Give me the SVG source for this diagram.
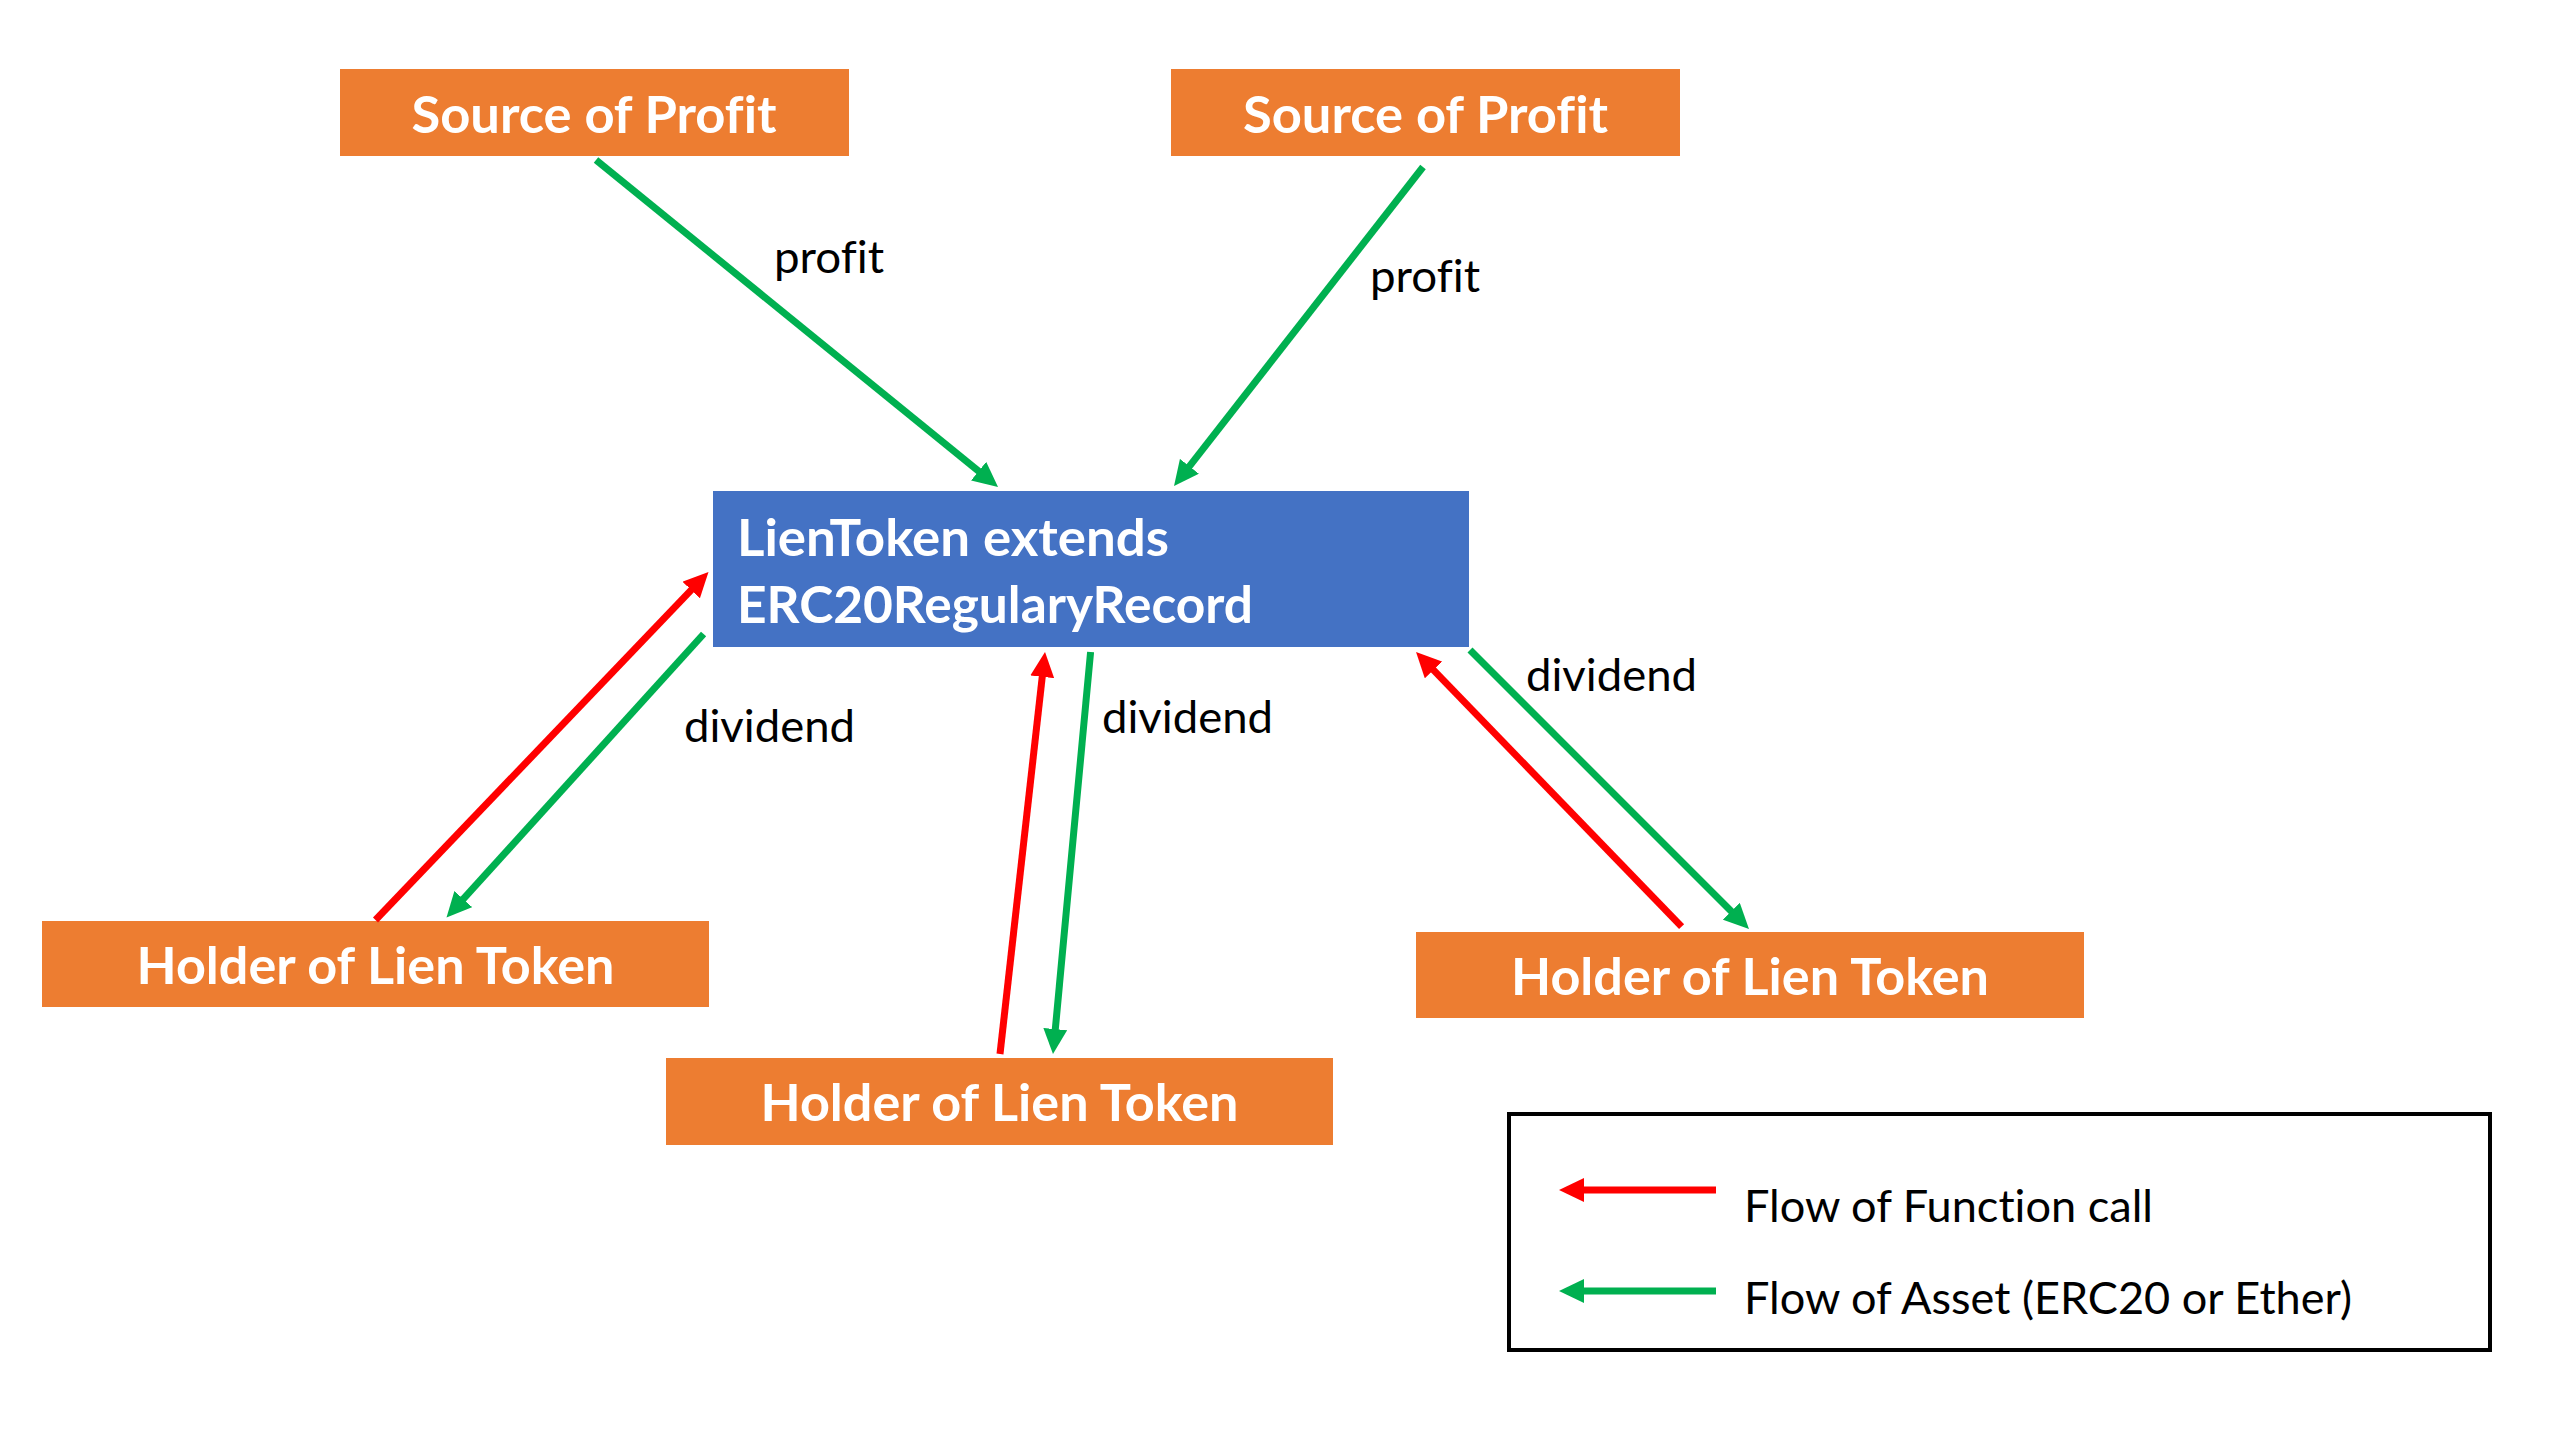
<svg xmlns="http://www.w3.org/2000/svg" width="2560" height="1440" viewBox="0 0 2560 1440">
<style>
.node-o{fill:#ED7D31;}
.node-b{fill:#4472C4;}
.nt{font-family:Lato,"Liberation Sans",Arial,sans-serif;font-weight:bold;font-size:51px;fill:#FFFFFF;font-variant-ligatures:none;}
.lbl{font-family:Lato,"Liberation Sans",Arial,sans-serif;font-size:44px;fill:#000000;font-variant-ligatures:none;}
.g{stroke:#00B050;stroke-width:7;fill:none;marker-end:url(#ag);}
.r{stroke:#FF0000;stroke-width:7;fill:none;marker-end:url(#ar);}
</style>
<defs>
<marker id="ag" markerUnits="userSpaceOnUse" markerWidth="25" markerHeight="24" refX="14" refY="12" orient="auto" viewBox="0 0 25 24">
<path d="M0,0 L25,12 L0,24 z" fill="#00B050"/>
</marker>
<marker id="ar" markerUnits="userSpaceOnUse" markerWidth="25" markerHeight="24" refX="14" refY="12" orient="auto" viewBox="0 0 25 24">
<path d="M0,0 L25,12 L0,24 z" fill="#FF0000"/>
</marker>
</defs>
<rect width="2560" height="1440" fill="#FFFFFF"/>

<g id="source1">
<rect class="node-o" x="340" y="69" width="509" height="87"/>
<text class="nt" x="594" y="133" text-anchor="middle" textLength="365" lengthAdjust="spacingAndGlyphs">Source of Profit</text>
</g>
<g id="source2">
<rect class="node-o" x="1171" y="69" width="509" height="87"/>
<text class="nt" x="1425.5" y="133" text-anchor="middle" textLength="365" lengthAdjust="spacingAndGlyphs">Source of Profit</text>
</g>
<g id="lientoken">
<rect class="node-b" x="713" y="491" width="756" height="156"/>
<text class="nt" x="737" y="556" textLength="432" lengthAdjust="spacingAndGlyphs">LienToken extends</text>
<text class="nt" x="737" y="623" textLength="516" lengthAdjust="spacingAndGlyphs">ERC20RegularyRecord</text>
</g>
<g id="holder1">
<rect class="node-o" x="42" y="921" width="667" height="86"/>
<text class="nt" x="375.5" y="984" text-anchor="middle" textLength="478" lengthAdjust="spacingAndGlyphs">Holder of Lien Token</text>
</g>
<g id="holder2">
<rect class="node-o" x="666" y="1058" width="667" height="87"/>
<text class="nt" x="999.5" y="1121" text-anchor="middle" textLength="478" lengthAdjust="spacingAndGlyphs">Holder of Lien Token</text>
</g>
<g id="holder3">
<rect class="node-o" x="1416" y="932" width="668" height="86"/>
<text class="nt" x="1750" y="995" text-anchor="middle" textLength="478" lengthAdjust="spacingAndGlyphs">Holder of Lien Token</text>
</g>

<g id="connectors">
<line class="g" x1="596" y1="160" x2="989.5" y2="480"/>
<line class="g" x1="1423" y1="167" x2="1180.8" y2="477.3"/>
<line class="r" x1="375.5" y1="920" x2="700.9" y2="579.9"/>
<line class="g" x1="703.6" y1="634" x2="453.9" y2="909.4"/>
<line class="r" x1="1000" y1="1054" x2="1043.8" y2="662.9"/>
<line class="g" x1="1090.6" y1="652" x2="1054" y2="1043"/>
<line class="r" x1="1681.6" y1="926.6" x2="1423.7" y2="659.9"/>
<line class="g" x1="1470" y1="650" x2="1741.2" y2="921.2"/>
<text class="lbl" x="774" y="273" textLength="110" lengthAdjust="spacingAndGlyphs">profit</text>
<text class="lbl" x="1370" y="292" textLength="110" lengthAdjust="spacingAndGlyphs">profit</text>
<text class="lbl" x="684" y="742" textLength="171" lengthAdjust="spacingAndGlyphs">dividend</text>
<text class="lbl" x="1102" y="733" textLength="171" lengthAdjust="spacingAndGlyphs">dividend</text>
<text class="lbl" x="1526" y="691" textLength="171" lengthAdjust="spacingAndGlyphs">dividend</text>
</g>

<g id="legend">
<rect x="1509" y="1114" width="981" height="236" fill="none" stroke="#000000" stroke-width="4"/>
<line class="r" x1="1716" y1="1190" x2="1570" y2="1190"/>
<line class="g" x1="1716" y1="1291" x2="1570" y2="1291"/>
<text class="lbl" x="1744" y="1222" textLength="409" lengthAdjust="spacingAndGlyphs">Flow of Function call</text>
<text class="lbl" x="1744" y="1314" textLength="608" lengthAdjust="spacingAndGlyphs">Flow of Asset (ERC20 or Ether)</text>
</g>
</svg>
